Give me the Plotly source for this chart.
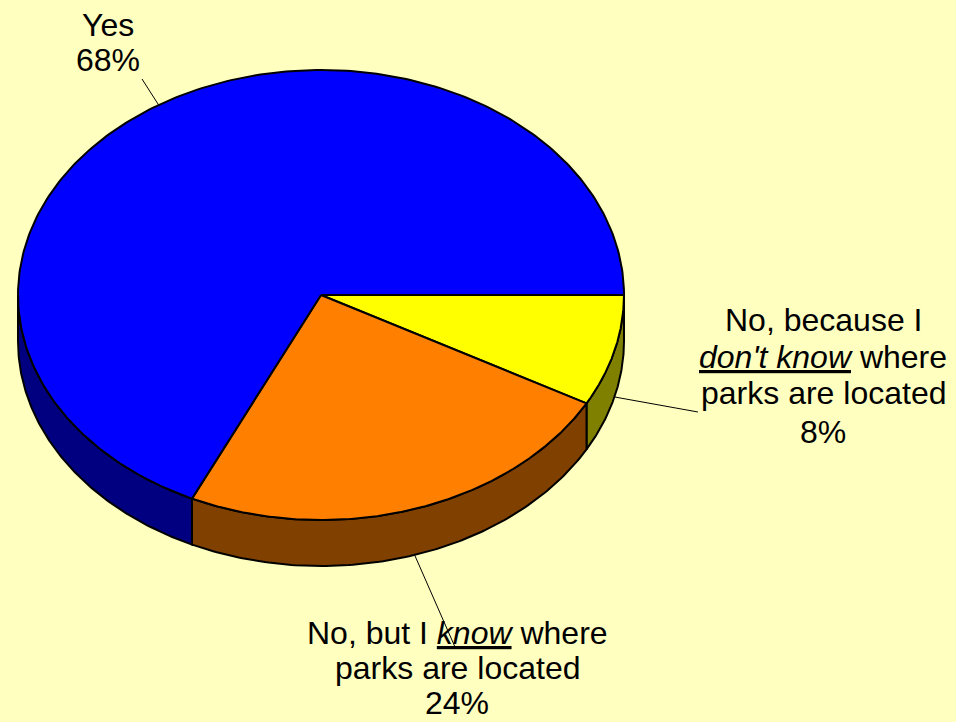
import numpy as np
import plotly.graph_objects as go

# ---- data ----
categories = ["Yes", "No, but I know where parks are located", "No, because I don't know where parks are located"]
values = [68, 24, 8]
pct_labels = ["68%", "24%", "8%"]
label_lines = [
    ["Yes", "68%"],
    ["No, but I <i><u>know</u></i> where", "parks are located", "24%"],
    ["No, because I", "<i><u>don't know</u></i> where", "parks are located", "8%"],
]

# ---- style / geometry ----
top_colors = ["#0000FF", "#FF8000", "#FFFF00"]
side_colors = ["#000080", "#804000", "#808000"]
bg = "#FFFFC0"
cx, cy, rx, ry, depth = 321, 295, 303, 225, 46
label_pos = [(108, [25, 60]), (457, [633, 668, 703]), (823, [320, 357, 393, 432])]
leader_end = [(142, 79), (455, 647), (698, 412)]
FONT = dict(family="Liberation Sans, Arial, sans-serif", size=32, color="black")

fig = go.Figure()

# slices drawn clockwise from 3 o'clock, in reverse category order
total = float(sum(values))
order = list(range(len(values)))[::-1]
spans = {}
a = 0.0
for i in order:
    s = values[i] / total * 360.0
    spans[i] = (a, a + s)
    a += s

def pt(theta_deg, dz=0.0):
    t = np.radians(theta_deg)
    return cx + rx * np.cos(t), cy + ry * np.sin(t) + dz

# side walls (visible front half: 0..180 deg)
for i in order:
    a0, a1 = spans[i]
    lo, hi = max(a0, 0), min(a1, 180)
    if hi <= lo:
        continue
    th = np.linspace(lo, hi, 120)
    xt, yt = pt(th)
    xb, yb = pt(th[::-1], depth)
    xs = np.concatenate([xt, xb, xt[:1]])
    ys = np.concatenate([yt, yb, yt[:1]])
    fig.add_trace(go.Scatter(x=xs, y=ys, mode="lines", fill="toself",
                             fillcolor=side_colors[i], line=dict(color="black", width=2),
                             hoverinfo="skip", showlegend=False))

# top faces
for i in order:
    a0, a1 = spans[i]
    th = np.linspace(a0, a1, 300)
    xt, yt = pt(th)
    xs = np.concatenate([[cx], xt, [cx]])
    ys = np.concatenate([[cy], yt, [cy]])
    fig.add_trace(go.Scatter(x=xs, y=ys, mode="lines", fill="toself",
                             fillcolor=top_colors[i], line=dict(color="black", width=2),
                             hoverinfo="skip", showlegend=False, name=categories[i]))

# leader lines from slice mid-angle
for i in range(len(values)):
    a0, a1 = spans[i]
    mid = (a0 + a1) / 2.0
    dz = depth if 0 < (mid % 360) < 180 else 0
    x0, y0 = pt(mid, dz)
    x1, y1 = leader_end[i]
    fig.add_trace(go.Scatter(x=[x0, x1], y=[y0, y1], mode="lines",
                             line=dict(color="black", width=1),
                             hoverinfo="skip", showlegend=False))

# labels
for i in range(len(values)):
    lx, ys = label_pos[i]
    for line, ly in zip(label_lines[i], ys):
        fig.add_annotation(x=lx, y=ly, xref="x", yref="y", text=line, showarrow=False,
                           font=FONT, xanchor="center", yanchor="middle")

fig.update_layout(
    width=956, height=722, margin=dict(l=0, r=0, t=0, b=0),
    paper_bgcolor=bg, plot_bgcolor=bg,
    xaxis=dict(range=[0, 956], visible=False, fixedrange=True),
    yaxis=dict(range=[722, 0], visible=False, fixedrange=True),
)
fig.write_html("out.html", config={"displayModeBar": False},
               post_script="document.body.style.margin='0';document.body.style.overflow='hidden';")
